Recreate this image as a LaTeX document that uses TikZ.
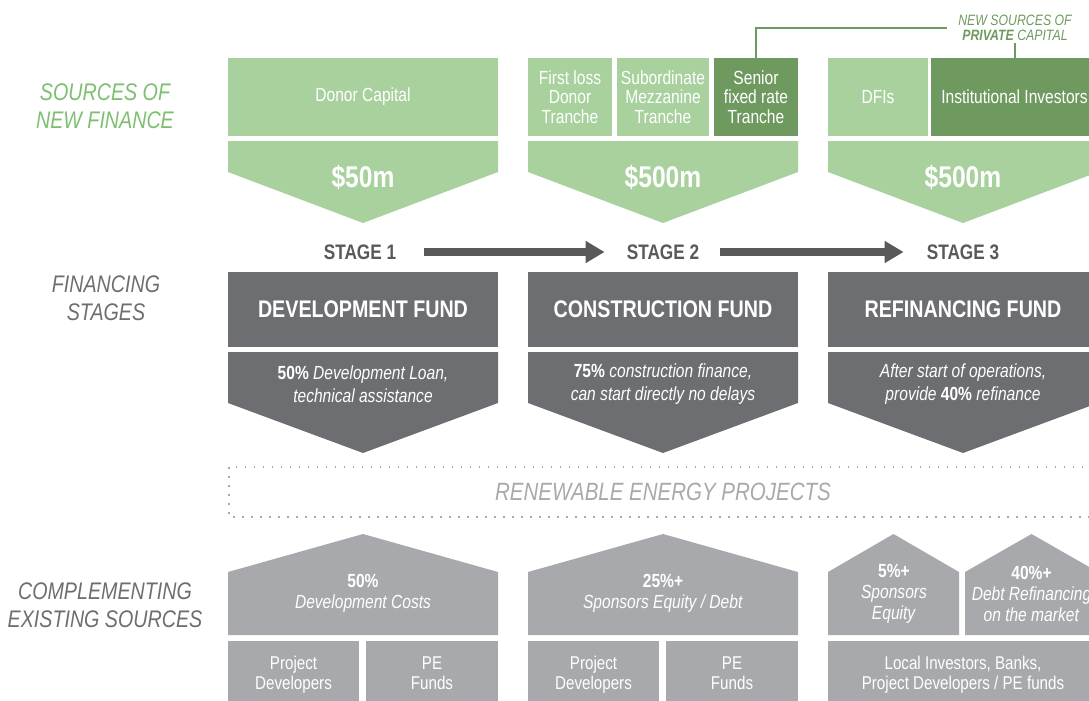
\documentclass[tikz,border=0pt]{standalone}
\usepackage{fontspec}
\setmainfont{Liberation Sans}[FakeStretch=0.82]
\usetikzlibrary{arrows.meta}
\definecolor{lgreen}{HTML}{A8D19E}
\definecolor{dgreen}{HTML}{6F9A5F}
\definecolor{tgreen}{HTML}{7DBF70}
\definecolor{dgray}{HTML}{6D6E71}
\definecolor{sgray}{HTML}{58595B}
\definecolor{lgray}{HTML}{A7A9AC}
\tikzset{
  srcbox/.style={fill=lgreen, text=white, inner sep=0pt, outer sep=0pt, minimum height=78pt, align=center, font=\fontsize{19}{19.5}\selectfont},
  privbox/.style={srcbox, fill=dgreen},
  money/.style={text=white, inner sep=0pt, font=\bfseries\fontsize{30}{30}\selectfont},
  stagelbl/.style={text=sgray, inner sep=0pt, font=\bfseries\fontsize{21}{21}\selectfont},
  fundbox/.style={fill=dgray, text=white, minimum width=270pt, minimum height=75pt, inner sep=0pt, outer sep=0pt, font=\bfseries\fontsize{24}{24}\selectfont},
  desc/.style={text=white, align=center, inner sep=0pt, font=\fontsize{19}{23}\selectfont},
  housetxt/.style={text=white, align=center, inner sep=0pt, font=\fontsize{19}{21}\selectfont},
  pbox/.style={fill=lgray, text=white, minimum height=68pt, inner sep=0pt, outer sep=0pt, align=center, font=\fontsize{18.5}{20}\selectfont},
  sidelbl/.style={align=center, inner sep=0pt, font=\itshape\fontsize{24}{28}\selectfont},
  stagearr/.style={line width=8pt, draw=sgray, -{Triangle[length=19pt,width=21pt,fill=sgray]}},
  privline/.style={draw=dgreen, line width=1.2pt},
}
\begin{document}
\begin{tikzpicture}[x=1pt,y=-1pt]
\useasboundingbox (0,0) rectangle (1089,701);

% side labels
\node[sidelbl, text=tgreen] (srcl) at (105,106) {SOURCES OF\\NEW FINANCE};
\node[sidelbl, text=dgray] (finl) at (106,298) {FINANCING\\STAGES};
\node[sidelbl, text=dgray] (compl) at (105,605) {COMPLEMENTING\\EXISTING SOURCES};

% sources of new finance
\node[srcbox, minimum width=270pt] (donor) at (363,97) {Donor Capital};
\node[srcbox, minimum width=84pt] (first) at (570,97) {First loss\\Donor\\Tranche};
\node[srcbox, minimum width=92pt] (subord) at (663,97) {Subordinate\\Mezzanine\\Tranche};
\node[privbox, minimum width=84pt] (senior) at (756,97) {Senior\\fixed rate\\Tranche};
\node[srcbox, minimum width=100pt] (dfis) at (878,97) {DFIs};
\node[privbox, minimum width=167pt] (inst) at (1014.5,97) {Institutional Investors};

\node[text=dgreen, align=center, inner sep=2pt, font=\itshape\fontsize{15}{15.5}\selectfont] (newsrc) at (1015,28) {NEW SOURCES OF\\\textbf{PRIVATE} CAPITAL};
\draw[privline] (senior.north) |- ([xshift=-9pt]newsrc.west);
\draw[privline] (newsrc.south) -- (newsrc.south |- inst.north);

% green arrows
\fill[lgreen] (228,141) -- (498,141) -- (498,172) -- (363,223) -- (228,172) -- cycle;
\fill[lgreen] (528,141) -- (798,141) -- (798,172) -- (663,223) -- (528,172) -- cycle;
\fill[lgreen] (828,141) -- (1098,141) -- (1098,172) -- (963,223) -- (828,172) -- cycle;
\node[money] (m1) at (363,177) {\$50m};
\node[money] (m2) at (663,177) {\$500m};
\node[money] (m3) at (963,177) {\$500m};

% stages
\node[stagelbl] (st1) at (360,252) {STAGE 1};
\node[stagelbl] (st2) at (663,252) {STAGE 2};
\node[stagelbl] (st3) at (963,252) {STAGE 3};
\draw[stagearr] ([xshift=28pt]st1.east) -- ([xshift=-22pt]st2.west);
\draw[stagearr] ([xshift=21pt]st2.east) -- ([xshift=-23pt]st3.west);

% funds
\node[fundbox] (devf) at (363,309.5) {DEVELOPMENT FUND};
\node[fundbox] (conf) at (663,309.5) {CONSTRUCTION FUND};
\node[fundbox] (reff) at (963,309.5) {REFINANCING FUND};
\fill[dgray] (228,352) -- (498,352) -- (498,403) -- (363,453) -- (228,403) -- cycle;
\fill[dgray] (528,352) -- (798,352) -- (798,403) -- (663,453) -- (528,403) -- cycle;
\fill[dgray] (828,352) -- (1098,352) -- (1098,403) -- (963,453) -- (828,403) -- cycle;
\node[desc] (d1) at (363,384) {\textbf{50\%} \textit{Development Loan,}\\\textit{technical assistance}};
\node[desc] (d2) at (663,384) {\textbf{75\%} \textit{construction finance,}\\\textit{can start directly no delays}};
\node[desc] (d3) at (963,384) {\textit{After start of operations,}\\\textit{provide} \textbf{40\%} \textit{refinance}};

% projects
\draw[lgray, line width=1.3pt, dash pattern=on 1.5pt off 7.5pt] (229,467) rectangle (1110,517);
\node[text=lgray, inner sep=0pt, font=\itshape\fontsize{25}{25}\selectfont] (rep) at (663,492) {RENEWABLE ENERGY PROJECTS};

% complementing sources
\fill[lgray] (228,635) -- (228,572) -- (363,534) -- (498,572) -- (498,635) -- cycle;
\fill[lgray] (528,635) -- (528,572) -- (663,534) -- (798,572) -- (798,635) -- cycle;
\fill[lgray] (828,635) -- (828,572) -- (893.5,534) -- (959,572) -- (959,635) -- cycle;
\fill[lgray] (965,635) -- (965,572) -- (1031.5,534) -- (1098,572) -- (1098,635) -- cycle;
\node[housetxt] (h1) at (363,593) {\textbf{50\%}\\\textit{Development Costs}};
\node[housetxt] (h2) at (663,593) {\textbf{25\%+}\\\textit{Sponsors Equity / Debt}};
\node[housetxt] (h3) at (894,594) {\textbf{5\%+}\\\textit{Sponsors}\\\textit{Equity}};
\node[housetxt] (h4) at (1031.5,594) {\textbf{40\%+}\\\textit{Debt Refinancing}\\\textit{on the market}};

\node[pbox, minimum width=131pt] (pd1) at (293.5,675) {Project\strut\\Developers\strut};
\node[pbox, minimum width=132pt] (pe1) at (432,675) {PE\strut\\Funds\strut};
\node[pbox, minimum width=131pt] (pd2) at (593.5,675) {Project\strut\\Developers\strut};
\node[pbox, minimum width=132pt] (pe2) at (732,675) {PE\strut\\Funds\strut};
\node[pbox, minimum width=270pt] (loc) at (963,675) {Local Investors, Banks,\strut\\Project Developers / PE funds\strut};
\end{tikzpicture}
\end{document}
